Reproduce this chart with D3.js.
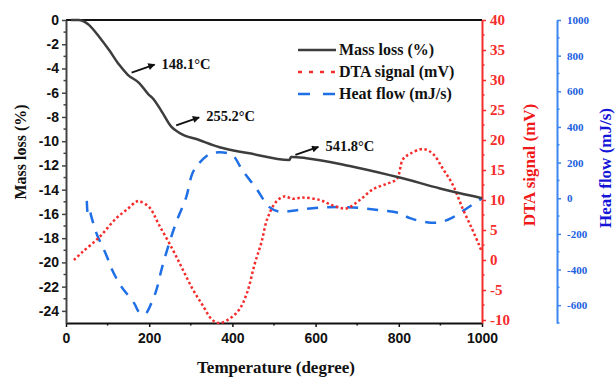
<!DOCTYPE html>
<html>
<head>
<meta charset="utf-8">
<script src="https://cdn.jsdelivr.net/npm/d3@7"></script>
<style>
  body { margin: 0; background: #fff; }
  svg { display: block; }
</style>
</head>
<body>
<div id="chart"></div>
<script>
// temperature (degree) / value pairs
const massT = [12, 31, 45, 55, 80, 104, 128, 148, 176, 200, 207, 231, 253, 272, 320, 369, 441, 537, 541, 545, 578, 682, 778, 802, 899, 947, 1000];
const massV = [0, 0, -0.15, -0.4, -1.4, -2.5, -3.7, -4.5, -5.2, -6.2, -6.4, -7.6, -8.8, -9.3, -9.9, -10.5, -11.0, -11.55, -11.3, -11.3, -11.4, -12.05, -12.8, -13.0, -13.9, -14.3, -14.7];

const dtaT = [19, 39, 80, 120, 148, 168, 176, 200, 224, 256, 280, 304, 328, 352, 369, 393, 417, 436, 453, 470, 484, 505, 525, 545, 569, 610, 641, 674, 706, 738, 771, 795, 810, 827, 858, 882, 906, 930, 954, 976, 993, 1000];
const dtaV = [0, 1.3, 3.8, 6.9, 8.5, 9.7, 9.8, 8.8, 5.8, 1.8, -1.5, -4.8, -7.5, -10, -10.5, -9.8, -8.2, -5.3, -0.8, 3, 6.9, 9.7, 10.6, 10.2, 10.4, 10, 9.1, 8.6, 10, 11.8, 12.7, 13.5, 16.8, 17.7, 18.5, 17.7, 15.2, 12.5, 8.5, 5.2, 2.5, 1.3];

const heatT = [50, 52, 54, 57, 60, 75, 84, 99, 108, 128, 140, 164, 176, 190, 205, 217, 231, 248, 265, 289, 304, 320, 345, 369, 400, 424, 457, 489, 513, 545, 593, 674, 754, 802, 827, 867, 899, 930, 964, 1000];
const heatV = [-15, -80, -60, -62, -95, -208, -253, -331, -387, -478, -517, -590, -640, -650, -590, -517, -388, -253, -135, 6, 140, 197, 247, 258, 242, 157, 56, -50, -75, -70, -56, -50, -67, -84, -112, -135, -135, -107, -56, 0];

const peaks = [148.1, 255.2, 541.8];
const peakLabels = ["148.1°C", "255.2°C", "541.8°C"];

const xTicks = [0, 200, 400, 600, 800, 1000];
const massTicks = d3.range(0, -25, -2);
const dtaTicks = d3.range(-10, 41, 5);
const heatTicks = d3.range(-600, 1001, 200);

const legendNames = ["Mass loss (%)", "DTA signal (mV)", "Heat flow (mJ/s)"];

const W = 616, H = 378;
const L = 66, R = 482, T = 20, B = 323;
const serif = "'Liberation Serif', 'Times New Roman', serif";
const sans = "'Liberation Sans', Arial, sans-serif";
const cMass = "#3d3d3d", cDta = "#f52c2c", cHeat = "#1f6fe6";

const svg = d3.select("#chart").append("svg")
    .attr("width", W).attr("height", H);

const x = d3.scaleLinear().domain([0, 1000]).range([L, R]);
const yM = d3.scaleLinear().domain([-25, 0]).range([B, T]);
const yD = d3.scaleLinear().domain([-10.5, 40]).range([B, T]);
const yH = d3.scaleLinear().domain([-700, 1000]).range([B, T]);

// top border
svg.append("line").attr("x1", L).attr("x2", R).attr("y1", T).attr("y2", T)
    .attr("stroke", "#111").attr("stroke-width", 2);

// axes
function styleAxis(g, color, font, size) {
    g.selectAll(".domain").attr("stroke", color).attr("stroke-width", 2);
    g.selectAll(".tick line").attr("stroke", color).attr("stroke-width", 1.5);
    g.selectAll("text").attr("fill", color).attr("font-family", font)
        .attr("font-weight", "bold").attr("font-size", size);
}

function minorTicks(g, scale, vals, orient, color) {
    vals.forEach(v => {
        const p = scale(v);
        const ln = g.append("line").attr("stroke", color).attr("stroke-width", 1.5);
        if (orient === "left") ln.attr("x1", 0).attr("x2", -2.5).attr("y1", p).attr("y2", p);
        else if (orient === "right") ln.attr("x1", 0).attr("x2", 2.5).attr("y1", p).attr("y2", p);
        else ln.attr("x1", p).attr("x2", p).attr("y1", 0).attr("y2", 2.5);
    });
}

// plain hyphen minus like the original
const fmt = d => String(d);

const gx = svg.append("g").attr("transform", `translate(0,${B})`)
    .call(d3.axisBottom(x).tickValues(xTicks).tickFormat(fmt).tickSize(4).tickPadding(6).tickSizeOuter(0));
styleAxis(gx, "#111", sans, 14);
minorTicks(gx, x, [100, 300, 500, 700, 900], "bottom", "#111");

const gm = svg.append("g").attr("transform", `translate(${L},0)`)
    .call(d3.axisLeft(yM).tickValues(massTicks).tickFormat(fmt).tickSize(4).tickPadding(3).tickSizeOuter(0));
styleAxis(gm, "#444", sans, 14);
gm.selectAll("text").attr("fill", "#111");
minorTicks(gm, yM, d3.range(-1, -25, -2), "left", "#444");

const gd = svg.append("g").attr("transform", `translate(${R},0)`)
    .call(d3.axisRight(yD).tickValues(dtaTicks).tickFormat(fmt).tickSize(4).tickPadding(4).tickSizeOuter(0));
styleAxis(gd, cDta, serif, 15);
minorTicks(gd, yD, d3.range(-7.5, 40, 5), "right", cDta);

const gh = svg.append("g").attr("transform", `translate(557,0)`)
    .call(d3.axisRight(yH).tickValues(heatTicks).tickFormat(fmt).tickSize(4).tickPadding(6).tickSizeOuter(0));
styleAxis(gh, "#3c86f0", serif, 11);
gh.selectAll("text").attr("fill", "#2060e0");
minorTicks(gh, yH, d3.range(-700, 1000, 200), "right", "#3c86f0");

// axis titles
svg.append("text").attr("transform", `translate(26,152) rotate(-90)`)
    .attr("text-anchor", "middle").attr("font-family", serif).attr("font-weight", "bold")
    .attr("font-size", 16).attr("fill", "#111").text("Mass loss (%)");
svg.append("text").attr("x", 276).attr("y", 373)
    .attr("text-anchor", "middle").attr("font-family", serif).attr("font-weight", "bold")
    .attr("font-size", 17).attr("fill", "#111").text("Temperature (degree)");
svg.append("text").attr("transform", `translate(535,165) rotate(-90)`)
    .attr("text-anchor", "middle").attr("font-family", serif).attr("font-weight", "bold")
    .attr("font-size", 17).attr("fill", "#f01818").text("DTA signal (mV)");
svg.append("text").attr("transform", `translate(611,168) rotate(-90)`)
    .attr("text-anchor", "middle").attr("font-family", serif).attr("font-weight", "bold")
    .attr("font-size", 17).attr("fill", "#1515d8").text("Heat flow (mJ/s)");

// series
const plot = svg.append("g");
const lineM = d3.line().x(d => x(d[0])).y(d => yM(d[1])).curve(d3.curveMonotoneX);
const lineD = d3.line().x(d => x(d[0])).y(d => yD(d[1])).curve(d3.curveCatmullRom);
const lineH = d3.line().x(d => x(d[0])).y(d => yH(d[1])).curve(d3.curveCatmullRom);

plot.append("path").datum(d3.zip(heatT, heatV)).attr("d", lineH)
    .attr("fill", "none").attr("stroke", cHeat).attr("stroke-width", 2.5)
    .attr("stroke-dasharray", "11,9");
plot.append("path").datum(d3.zip(dtaT, dtaV)).attr("d", lineD)
    .attr("fill", "none").attr("stroke", cDta).attr("stroke-width", 2.5)
    .attr("stroke-dasharray", "2.5,2.5");
plot.append("path").datum(d3.zip(massT, massV)).attr("d", lineM)
    .attr("fill", "none").attr("stroke", cMass).attr("stroke-width", 2.5);

// peak annotations with arrows
svg.append("defs").append("marker").attr("id", "arr")
    .attr("viewBox", "0 0 10 10").attr("refX", 9).attr("refY", 5)
    .attr("markerWidth", 9).attr("markerHeight", 7).attr("markerUnits", "userSpaceOnUse")
    .attr("orient", "auto")
    .append("path").attr("d", "M0,0 L10,5 L0,10 Z").attr("fill", "#111");

const massAt = t => d3.scaleLinear().domain(massT).range(massV)(t);
peaks.forEach((t, i) => {
    const px = x(t) + 4, py = yM(massAt(t)) - 2;
    svg.append("line").attr("x1", px).attr("y1", py).attr("x2", px + 23).attr("y2", py - 8)
        .attr("stroke", "#111").attr("stroke-width", 1.8).attr("marker-end", "url(#arr)");
    svg.append("text").attr("x", px + 30).attr("y", py - 4)
        .attr("font-family", serif).attr("font-weight", "bold").attr("font-size", 14.5)
        .attr("fill", "#111").text(peakLabels[i]);
});

// legend
const leg = svg.append("g");
const legStyles = [
    { c: cMass, dash: null },
    { c: cDta, dash: "4,7" },
    { c: cHeat, dash: "12,13" }
];
legendNames.forEach((n, i) => {
    const yy = 50 + i * 22;
    leg.append("line").attr("x1", 298).attr("x2", 336).attr("y1", yy).attr("y2", yy)
        .attr("stroke", legStyles[i].c).attr("stroke-width", 2.5)
        .attr("stroke-dasharray", legStyles[i].dash);
    leg.append("text").attr("x", 339).attr("y", yy + 5)
        .attr("font-family", serif).attr("font-weight", "bold").attr("font-size", 16)
        .attr("fill", "#111").text(n);
});
</script>
</body>
</html>
